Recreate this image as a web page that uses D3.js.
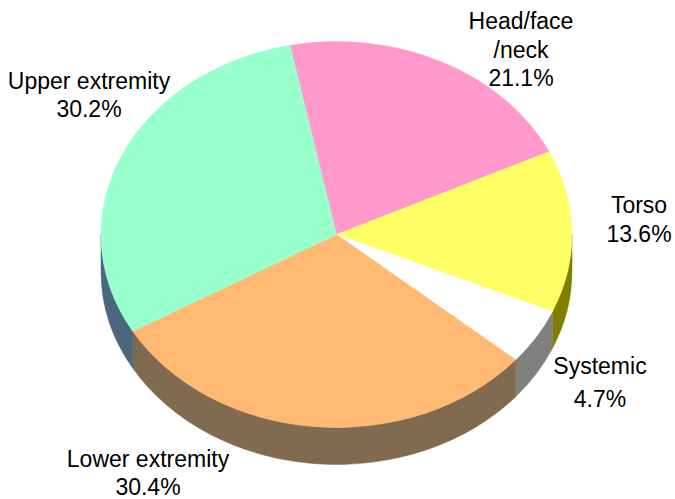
<!DOCTYPE html>
<html>
<head>
<meta charset="utf-8">
<script src="https://cdn.jsdelivr.net/npm/d3@7"></script>
<style>
  body { margin: 0; background: #fff; }
  text { font-family: "Liberation Sans", Arial, sans-serif; font-size: 23px; fill: #000; }
</style>
</head>
<body>
<div id="chart"></div>
<script>
// data, clockwise from the top
const categories = ["Head/face/neck", "Torso", "Systemic", "Lower extremity", "Upper extremity"];
const values = [21.1, 13.6, 4.7, 30.4, 30.2];
const labelLines = {
  "Head/face/neck": ["Head/face", "/neck"]
};

const topColor = {
  "Head/face/neck": "#ff99cc",
  "Torso": "#ffff66",
  "Systemic": "#ffffff",
  "Lower extremity": "#ffb973",
  "Upper extremity": "#99ffcc"
};
const sideColor = {
  "Head/face/neck": "#804c66",
  "Torso": "#808000",
  "Systemic": "#808080",
  "Lower extremity": "#806a50",
  "Upper extremity": "#4d6680"
};
// label anchor (centre x, first baseline y, line step)
const labelPos = {
  "Head/face/neck": [521, 29, 28.5],
  "Torso": [639, 213, 29],
  "Systemic": [600, 374, 33],
  "Lower extremity": [148, 467, 27.5],
  "Upper extremity": [89, 89, 28]
};

const W = 675, H = 499;
const cx = 336.5, cy = 234.5, rx = 235.5, ry = 193, depth = 37;

const svg = d3.select("#chart")
  .append("svg")
  .attr("width", W)
  .attr("height", H);

const pie = d3.pie()
  .sort(null)
  .value(d => d.value)
  .startAngle(-11.4 * Math.PI / 180)
  .endAngle((360 - 11.4) * Math.PI / 180);

const slices = pie(categories.map((c, i) => ({ name: c, value: values[i] })));

function pt(a, dy) {
  return [cx + rx * Math.sin(a), cy - ry * Math.cos(a) + (dy || 0)];
}

// sides: only the front half of the rim is seen
const sides = svg.append("g");
slices.forEach(s => {
  const a0 = Math.max(s.startAngle, Math.PI / 2);
  const a1 = Math.min(s.endAngle, Math.PI * 1.5);
  if (a1 <= a0) return;
  const p0 = pt(a0), p1 = pt(a1), q1 = pt(a1, depth), q0 = pt(a0, depth);
  const d = `M${p0}A${rx},${ry} 0 0 1 ${p1}L${q1}A${rx},${ry} 0 0 0 ${q0}Z`;
  sides.append("path")
    .attr("d", d)
    .attr("fill", sideColor[s.data.name])
    .attr("stroke", sideColor[s.data.name])
    .attr("stroke-width", 0.5);
});

// top faces: circle arcs squashed into the ellipse
const arc = d3.arc().innerRadius(0).outerRadius(rx);
svg.append("g")
  .attr("transform", `translate(${cx},${cy}) scale(1,${ry / rx})`)
  .selectAll("path")
  .data(slices)
  .join("path")
  .attr("d", arc)
  .attr("fill", d => topColor[d.data.name])
  .attr("stroke", d => topColor[d.data.name])
  .attr("stroke-width", 0.5);

// labels
slices.forEach(s => {
  const name = s.data.name;
  const lines = (labelLines[name] || [name]).concat([s.data.value.toFixed(1) + "%"]);
  const [x, y, step] = labelPos[name];
  const t = svg.append("text").attr("text-anchor", "middle");
  lines.forEach((l, i) => {
    t.append("tspan").attr("x", x).attr("y", y + i * step).text(l);
  });
});
</script>
</body>
</html>
